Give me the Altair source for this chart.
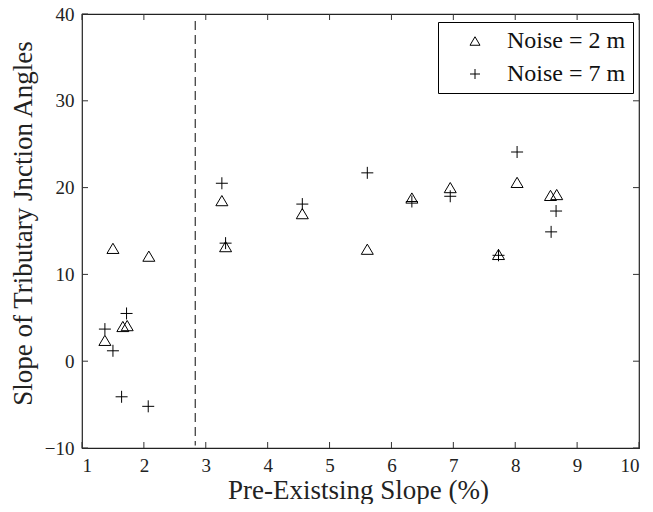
import altair as alt
import pandas as pd

# ---- data ----
series_names = ["Noise = 2 m", "Noise = 7 m"]

x_noise2 = [1.37, 1.50, 1.66, 1.73, 2.08, 3.26, 3.32, 4.56, 5.61, 6.33, 6.95, 7.73, 8.03, 8.57, 8.67]
y_noise2 = [2.4, 13.0, 4.0, 4.1, 12.1, 18.5, 13.2, 17.0, 12.9, 18.8, 20.0, 12.3, 20.6, 19.1, 19.2]

x_noise7 = [1.37, 1.50, 1.64, 1.72, 2.07, 3.26, 3.32, 4.56, 5.61, 6.33, 6.95, 7.73, 8.03, 8.58, 8.66]
y_noise7 = [3.7, 1.2, -4.1, 5.5, -5.2, 20.5, 13.6, 18.1, 21.7, 18.4, 19.0, 12.2, 24.1, 14.9, 17.3]

x_ticks = [1, 2, 3, 4, 5, 6, 7, 8, 9, 10]
y_ticks = [-10, 0, 10, 20, 30, 40]

threshold_x = [2.83]
threshold_y_top = [39.2]
threshold_y_bottom = [-9.7]

x_title = "Pre-Existsing Slope (%)"
y_title = "Slope of Tributary Jnction Angles"

# ---- build tables ----
pts = pd.DataFrame({
    "x": x_noise2 + x_noise7,
    "y": y_noise2 + y_noise7,
    "series": [series_names[0]] * len(x_noise2) + [series_names[1]] * len(x_noise7),
})
dash = pd.DataFrame({"x": threshold_x, "y": threshold_y_top, "y2": threshold_y_bottom})
xt = pd.DataFrame({"x": x_ticks})
yt = pd.DataFrame({"y": y_ticks})

W, H = 557, 434
FONT = "Liberation Serif"
TICK = 6

xs = alt.Scale(domain=[1, 10], nice=False, zero=False)
ys = alt.Scale(domain=[-10, 40], nice=False, zero=False)

common_axis = dict(domain=False, ticks=False, grid=False, labelPadding=8,
                   labelFont=FONT, labelFontSize=19, labelColor="#222",
                   titleFont=FONT, titleFontSize=27, titleFontWeight="normal",
                   titleColor="#222", format="d")

xaxis = alt.Axis(values=x_ticks, title=x_title, titleX=276, titleY=50,
                 titleBaseline="alphabetic", titleAlign="center", **common_axis)
yaxis = alt.Axis(values=y_ticks, title=y_title, titleX=-51, titleY=209, titleAngle=270,
                 titleBaseline="alphabetic", titleAlign="center", **common_axis)


def X(field):
    return alt.X(field, type="quantitative", scale=xs, axis=xaxis)


def Y(field):
    return alt.Y(field, type="quantitative", scale=ys, axis=yaxis)


tri = "M0,-0.85L1,0.85L-1,0.85Z"
plus = "M-1,0L1,0M0,-1L0,1"

points = alt.Chart(pts).mark_point(filled=False, strokeWidth=1, color="black",
                                   size=144, opacity=1).encode(
    x=X("x"),
    y=Y("y"),
    shape=alt.Shape("series:N",
                    scale=alt.Scale(domain=series_names, range=[tri, plus]),
                    legend=alt.Legend(title=None, orient="none", legendX=356, legendY=8,
                                      strokeColor="black", fillColor="white",
                                      padding=7, symbolSize=100, symbolOffset=18,
                                      labelOffset=20, rowPadding=9,
                                      symbolStrokeColor="black", symbolFillColor="transparent",
                                      symbolStrokeWidth=1, labelFont=FONT,
                                      labelFontSize=24, labelColor="#111",
                                      labelLimit=300)),
)

dashed = alt.Chart(dash).mark_rule(color="#333", strokeWidth=1.2, strokeDash=[9, 5]).encode(
    x=X("x"), y=Y("y"), y2="y2:Q"
)

bottom_ticks = alt.Chart(xt).mark_rule(color="#333").encode(
    x=X("x"), y=alt.value(H), y2=alt.value(H - TICK))
top_ticks = alt.Chart(xt).mark_rule(color="#333").encode(
    x=X("x"), y=alt.value(0), y2=alt.value(TICK))
left_ticks = alt.Chart(yt).mark_rule(color="#333").encode(
    y=Y("y"), x=alt.value(0), x2=alt.value(TICK))
right_ticks = alt.Chart(yt).mark_rule(color="#333").encode(
    y=Y("y"), x=alt.value(W), x2=alt.value(W - TICK))

chart = alt.layer(bottom_ticks, top_ticks, left_ticks, right_ticks, dashed, points).properties(
    width=W, height=H,
    autosize=alt.AutoSizeParams(type="none"),
    padding={"left": 74, "top": 6, "right": 6, "bottom": 56},
    background="white",
).configure_view(
    stroke="#222", strokeWidth=1.2
)

chart.save("out.html", embed_options={"renderer": "svg", "actions": False})
